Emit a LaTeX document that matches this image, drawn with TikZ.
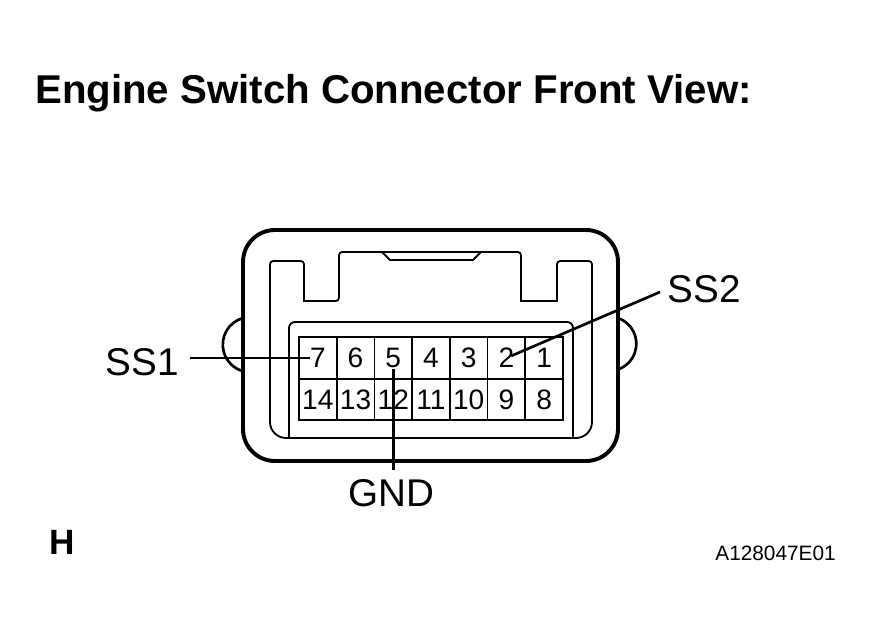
\documentclass[tikz,border=0pt]{standalone}
\usepackage{fontspec}
\setmainfont{Liberation Sans}
\tikzset{
  shell/.style={line width=2.8pt},
  inner wall/.style={line width=1.3pt},
  pincell/.style={draw, line width=1.2pt, minimum width=.943cm, minimum height=1.0375cm, inner sep=0pt, outer sep=0pt, font=\fontsize{20}{20}\selectfont},
  callout/.style={font=\fontsize{27.5}{28}\selectfont, inner sep=.1cm},
  leader/.style={line width=1.9pt}
}

\begin{document}
\begin{tikzpicture}
\useasboundingbox (0,0) rectangle (21.75,15.925);

\node[anchor=base west, inner sep=0pt, font=\bfseries\fontsize{28.6}{29}\selectfont] (title) at (.875,13.325) {Engine Switch Connector Front View:};

% outer shell
\draw[shell, rounded corners=.8cm] (6.075,4.4) rectangle (15.45,10.175);
\draw[leader] (6.075,7.975) arc[start angle=105.5, end angle=254.5, radius=.69cm];
\draw[leader] (15.45,7.975) arc[start angle=71, end angle=-71, radius=.68cm];

% inner wall
\draw[inner wall] (8.475,8.4) -- (7.6,8.4) [rounded corners=.08cm] -- (7.6,9.4) -- (6.75,9.4) [rounded corners=.4cm] -- (6.75,4.975) -- (14.8,4.975) [rounded corners=.08cm] -- (14.8,9.4) -- (13.925,9.4) [sharp corners] -- (13.925,8.4) -- (13.025,8.4) [rounded corners=.08cm] -- (13.025,9.625) -- (8.475,9.625) -- cycle;
\draw[inner wall] (9.55,9.625) -- (9.75,9.425) -- (11.825,9.425) -- (12.025,9.625);
\draw[inner wall, rounded corners=.15cm] (7.225,4.975) -- (7.225,7.875) -- (14.325,7.875) -- (14.325,4.975);

% pins
\node[pincell] (p7) at (7.946,6.975) {7};
\node[pincell] (p6) at (8.889,6.975) {6};
\node[pincell] (p5) at (9.832,6.975) {5};
\node[pincell] (p4) at (10.775,6.975) {4};
\node[pincell] (p3) at (11.718,6.975) {3};
\node[pincell] (p2) at (12.661,6.975) {2};
\node[pincell] (p1) at (13.604,6.975) {1};
\node[pincell] (p14) at (7.946,5.9375) {14};
\node[pincell] (p13) at (8.889,5.9375) {13};
\node[pincell] (p12) at (9.832,5.9375) {12};
\node[pincell] (p11) at (10.775,5.9375) {11};
\node[pincell] (p10) at (11.718,5.9375) {10};
\node[pincell] (p9) at (12.661,5.9375) {9};
\node[pincell] (p8) at (13.604,5.9375) {8};

% callouts
\node[callout] (ss1) at (3.55,6.875) {SS1};
\node[callout] (ss2) at (17.6,8.7) {SS2};
\node[callout] (gnd) at (9.775,3.6) {GND};
\coordinate (ss2end) at (16.5,8.625);

\draw[leader, shorten <=.175cm, shorten >=.2cm] (ss1.east |- p7.center) -- (p7.center);
\draw[leader, shorten >=.13cm] (ss2end) -- (p2.center);
\draw[leader, shorten <=.125cm, shorten >=.275cm] (p5.center |- gnd.north) -- (p5.center);

\node[anchor=base west, inner sep=0pt, font=\bfseries\fontsize{25}{25}\selectfont] (sheet) at (1.24,2.05) {H};
\node[anchor=base east, inner sep=0pt, font=\fontsize{14.8}{15}\selectfont] (code) at (20.9,1.9) {A128047E01};
\end{tikzpicture}
\end{document}
